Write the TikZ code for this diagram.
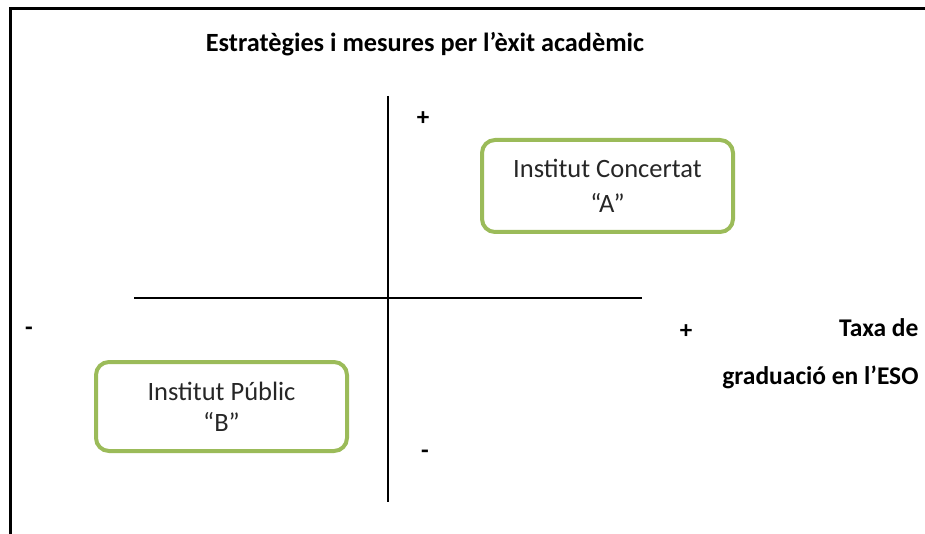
\documentclass[tikz,border=0pt]{standalone}
\usepackage{fontspec}
\setmainfont{Carlito}
\definecolor{boxgreen}{RGB}{155,187,89}
\begin{document}
\begin{tikzpicture}[x=1pt,y=-1pt,
  axis/.style={line width=1.3pt,black},
  frame/.style={line width=3pt,black},
  quad/.style={draw=boxgreen,line width=4pt,rounded corners=13pt,align=center,text=black!85},
  sign/.style={font=\bfseries\fontsize{25}{28}\selectfont},
  lbl/.style={font=\bfseries\fontsize{26.3}{28}\selectfont},
  axlbl/.style={font=\bfseries\fontsize{25.5}{28}\selectfont,anchor=east}]
\useasboundingbox (0,0) rectangle (925,534);
\coordinate (fl) at (10,534);
\coordinate (ftl) at (10,9);
\coordinate (ftr) at (925,9);
\draw[frame] (fl) -- (ftl) -- (ftr);
\node[lbl] (title) at (425,44) {Estratègies i mesures per l’èxit acadèmic};
\coordinate (vt) at (388,96);
\coordinate (vb) at (388,502);
\coordinate (hl) at (134,298);
\coordinate (hr) at (642,298);
\draw[axis] (vt) -- (vb);
\draw[axis] (hl) -- (hr);
\node[sign] (ptop) at (423,119) {+};
\node[sign] (mbot) at (425,454) {-};
\node[sign] (mleft) at (29,331) {-};
\node[sign] (pright) at (686,332) {+};
\node[axlbl] (taxa) at (922,328) {Taxa de};
\node[axlbl] (grad) at (922,377) {graduació en l’ESO};
\node[quad,minimum width=251pt,minimum height=92pt,font=\fontsize{26.5}{35}\selectfont] (A) at (607.5,186) {\raisebox{-2pt}{Institut Concertat}\\\raisebox{-2pt}{“A”}};
\node[quad,minimum width=251pt,minimum height=89pt,font=\fontsize{26.5}{31}\selectfont] (B) at (221.5,406.5) {Institut Públic\\“B”};
\end{tikzpicture}
\end{document}
